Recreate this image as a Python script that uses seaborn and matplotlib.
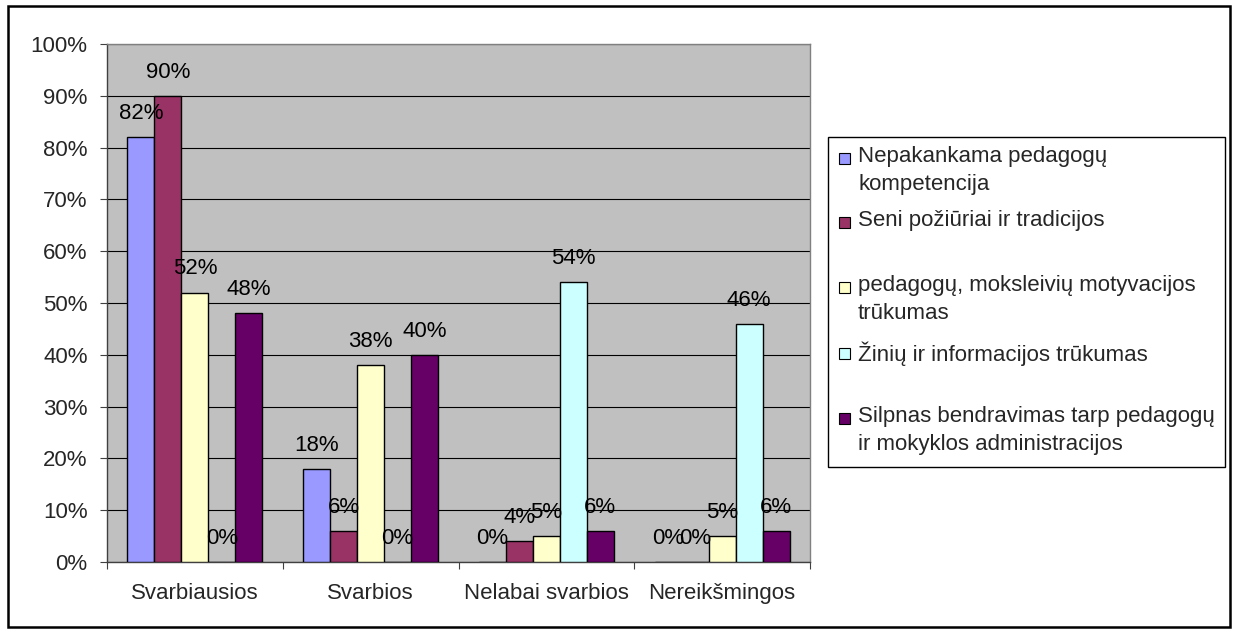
import matplotlib
matplotlib.use("Agg")
import matplotlib.pyplot as plt
from matplotlib.patches import Rectangle
import seaborn as sns
import pandas as pd

categories = ["Svarbiausios", "Svarbios", "Nelabai svarbios", "Nereikšmingos"]
series_names = [
    "Nepakankama pedagogų\nkompetencija",
    "Seni požiūriai ir tradicijos",
    "pedagogų, moksleivių motyvacijos\ntrūkumas",
    "Žinių ir informacijos trūkumas",
    "Silpnas bendravimas tarp pedagogų\nir mokyklos administracijos",
]
s1 = [82, 18, 0, 0]
s2 = [90, 6, 4, 0]
s3 = [52, 38, 5, 5]
s4 = [0, 0, 54, 46]
s5 = [48, 40, 6, 6]
colors = ["#9999FF", "#993366", "#FFFFCC", "#CCFFFF", "#660066"]
y_ticks = list(range(0, 101, 10))

series_values = [s1, s2, s3, s4, s5]
rows = []
for name, vals in zip(series_names, series_values):
    for cat, v in zip(categories, vals):
        rows.append({"category": cat, "series": name, "value": v})
df = pd.DataFrame(rows)

sns.set_theme(style="white")
plt.rcParams["font.family"] = ["Liberation Sans", "DejaVu Sans"]

FS = 16
W, H = 1239, 633
fig = plt.figure(figsize=(W / 100, H / 100), dpi=100)
fig.patch.set_facecolor("white")

# outer frame
fig.patches.append(Rectangle((8 / W, 1 - 627 / H), (1230 - 8) / W, (627 - 6) / H,
                             transform=fig.transFigure, fill=False,
                             edgecolor="black", linewidth=1.8, zorder=0))

ax = fig.add_axes([107 / W, 1 - 562 / H, (810 - 107) / W, (562 - 44) / H])
ax.set_facecolor("#C0C0C0")

sns.barplot(data=df, x="category", y="value", hue="series",
            order=categories, hue_order=series_names, palette=colors,
            saturation=1, width=0.767, edgecolor="black", linewidth=1.0,
            legend=False, ax=ax, zorder=3)

for cont, vals in zip(ax.containers, series_values):
    ax.bar_label(cont, labels=[f"{v}%" for v in vals], padding=9.5,
                 fontsize=FS, color="black", zorder=5)

ax.set_ylim(0, 100)
ax.set_xlim(-0.5, len(categories) - 0.5)
ax.set_yticks(y_ticks)
ax.set_yticklabels([f"{t}%" for t in y_ticks], fontsize=FS)
ax.yaxis.grid(True, color="black", linewidth=0.8, zorder=1)
ax.set_axisbelow(True)
ax.tick_params(axis="y", which="major", length=5, width=0.8, color="#404040",
               pad=9, left=True)

ax.set_xticks(range(len(categories)))
ax.set_xticklabels(categories, fontsize=FS)
ax.tick_params(axis="x", which="major", length=0, pad=15)
ax.set_xticks([i - 0.5 for i in range(len(categories) + 1)], minor=True)
ax.tick_params(axis="x", which="minor", length=5, width=0.8, color="#404040",
               bottom=True)
ax.set_xlabel("")
ax.set_ylabel("")

for side in ["top", "right"]:
    ax.spines[side].set_color("#808080")
    ax.spines[side].set_linewidth(1.0)
for side in ["left", "bottom"]:
    ax.spines[side].set_color("#404040")
    ax.spines[side].set_linewidth(1.0)

# legend drawn as box with entries
lx0, ly0, lx1, ly1 = 828, 137, 1225, 467
fig.patches.append(Rectangle((lx0 / W, 1 - ly1 / H), (lx1 - lx0) / W, (ly1 - ly0) / H,
                             transform=fig.transFigure, fill=True, facecolor="white",
                             edgecolor="black", linewidth=1.0, zorder=1))
entry_y = [158, 222, 287, 353, 418]
for name, col, y in zip(series_names, colors, entry_y):
    fig.patches.append(Rectangle((839 / W, 1 - (y + 6) / H), 11 / W, 11 / H,
                                 transform=fig.transFigure, facecolor=col,
                                 edgecolor="black", linewidth=0.8, zorder=2))
    fig.text(858 / W, 1 - (y - 12) / H, name, fontsize=FS, va="top", ha="left",
             linespacing=1.42, zorder=3)

fig.savefig("out.png", dpi=100)
